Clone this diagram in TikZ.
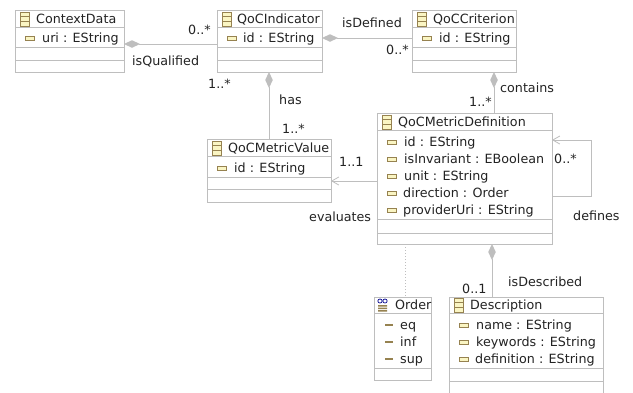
\documentclass[tikz,border=0pt]{standalone}
\usepackage{fontspec}
\setmainfont{DejaVu Sans}
\usetikzlibrary{arrows.meta}
\definecolor{linegray}{RGB}{190,190,190}
\definecolor{icoedge}{RGB}{150,130,80}
\definecolor{icofill}{RGB}{250,245,195}
\definecolor{txt}{RGB}{35,35,35}
\tikzset{
  x=1pt,y=-1pt,
  classbox/.style={draw=linegray,line width=1pt,fill=white,anchor=north west,inner sep=0pt,outer sep=0pt},
  sepline/.style={draw=linegray,line width=1pt},
  assoc/.style={draw=linegray,line width=1pt},
  comp/.style={assoc,{Diamond[length=16pt,width=7.5pt,line width=0pt,fill=linegray,color=linegray]}-},
  ref/.style={assoc,-{Straight Barb[length=7pt,width=8pt,line width=.8pt,color=linegray]}},
  lab/.style={text=txt,font=\fontsize{12.7}{15}\selectfont,inner sep=0pt,anchor=base west,yshift=-1pt},
  mult/.style={lab},
}
\newcommand{\classico}[2]{% x y top-left
  \draw[icoedge,fill=icofill,line width=.8pt] (#1,#2) rectangle ++(9.5,14);
  \draw[icoedge,line width=.6pt] (#1,#2+4.6) -- ++(9.5,0) (#1,#2+9.3) -- ++(9.5,0);}
\newcommand{\attrico}[2]{% x, y centre
  \draw[icoedge,fill=icofill,line width=.9pt] (#1,#2-2) rectangle ++(9,4);}
\newcommand{\litico}[2]{%
  \draw[icoedge,line width=1.4pt] (#1,#2) -- ++(8,0);}
\newcommand{\seps}[3]{% node, y1, y2
  \draw[sepline] (#1.west |- 0,#2) -- (#1.east |- 0,#2);
  \draw[sepline] (#1.west |- 0,#3) -- (#1.east |- 0,#3);}
\begin{document}
\begin{tikzpicture}
\clip (0,0) rectangle (633,392);
\fill[white] (0,0) rectangle (633,392);
% class boxes
\node[classbox,minimum width=109pt,minimum height=62pt] (ctx) at (15,10) {};
\node[classbox,minimum width=105pt,minimum height=62pt] (ind) at (217,10) {};
\node[classbox,minimum width=104pt,minimum height=62pt] (cri) at (412,10) {};
\node[classbox,minimum width=175pt,minimum height=131pt] (def) at (377,113) {};
\node[classbox,minimum width=124pt,minimum height=63pt] (val) at (207,139) {};
\node[classbox,minimum width=57pt,minimum height=83pt] (ord) at (374,297) {};
\node[classbox,minimum width=154pt,minimum height=110pt] (des) at (449,297) {};
% compartments
\draw[sepline] (ctx.west |- 0,27) -- (ctx.east |- 0,27);
\seps{ctx}{47}{60}
\draw[sepline] (ind.west |- 0,27) -- (ind.east |- 0,27);
\seps{ind}{47}{60}
\draw[sepline] (cri.west |- 0,27) -- (cri.east |- 0,27);
\seps{cri}{47}{60}
\draw[sepline] (def.west |- 0,130) -- (def.east |- 0,130);
\seps{def}{219}{233}
\draw[sepline] (val.west |- 0,156) -- (val.east |- 0,156);
\seps{val}{177}{189}
\seps{ord}{313}{368}
\seps{des}{313}{368}
\draw[sepline] (des.west |- 0,381) -- (des.east |- 0,381);
% icons
\classico{20}{12}\classico{222}{12}\classico{417}{12}\classico{382}{115}\classico{212}{141}\classico{454}{298}
\attrico{25}{38}\attrico{227}{38}\attrico{422}{38}\attrico{217}{168}
\attrico{387}{142}\attrico{387}{159}\attrico{387}{176}\attrico{387}{193}\attrico{387}{210}
\attrico{459}{325}\attrico{459}{342}\attrico{459}{359}
\litico{385}{325}\litico{385}{342}\litico{385}{359}
% enumeration icon
\draw[blue!55!black,fill=white,line width=.7pt] (380,301) ellipse (2.2 and 2);
\draw[blue!55!black,fill=white,line width=.7pt] (385,301) ellipse (2.2 and 2);
\fill[icoedge] (378,305) rectangle (387,306.5) (378,307.5) rectangle (387,309) (378,310) rectangle (387,311.5);
% class texts
\node[lab] (t1) at (36,22.5) {ContextData};
\node[lab] (t2) at (42,41.5) {uri : EString};
\node[lab] (t3) at (237,22.5) {QoCIndicator};
\node[lab] (t4) at (243,41.5) {id : EString};
\node[lab] (t5) at (433,22.5) {QoCCriterion};
\node[lab] (t6) at (439,41.5) {id : EString};
\node[lab] (t7) at (398,125.5) {QoCMetricDefinition};
\node[lab] (t8) at (404,145.5) {id : EString};
\node[lab] (t9) at (404,162.5) {isInvariant : EBoolean};
\node[lab] (t10) at (404,179.5) {unit : EString};
\node[lab] (t11) at (403,196.5) {direction : Order};
\node[lab] (t12) at (403,213.5) {providerUri : EString};
\node[lab] (t13) at (228,151.5) {QoCMetricValue};
\node[lab] (t14) at (234,171.5) {id : EString};
\node[lab] (t15) at (395,308.5) {Order};
\node[lab] (t16) at (400,328.5) {eq};
\node[lab] (t17) at (400,345.5) {inf};
\node[lab] (t18) at (400,362.5) {sup};
\node[lab] (t19) at (470,308.5) {Description};
\node[lab] (t20) at (476,328.5) {name : EString};
\node[lab] (t21) at (476,345.5) {keywords : EString};
\node[lab] (t22) at (475,362.5) {definition : EString};
% connectors
\draw[comp] (ctx.east |- 0,44) -- (ind.west |- 0,44);
\draw[comp] (ind.east |- 0,38) -- (cri.west |- 0,38);
\draw[comp] (ind.south -| 269,0) -- (val.north -| 269,0);
\draw[comp] (cri.south -| 494,0) -- (def.north -| 494,0);
\draw[comp] (def.south -| 492,0) -- (des.north -| 492,0);
\draw[ref] (def.west |- 0,181) -- (val.east |- 0,181);
\draw[ref] (def.east |- 0,196) -- (591,196) -- (591,140) -- (def.east |- 0,140);
\draw[assoc,dotted] (def.south -| 405,0) -- (ord.north -| 405,0);
% labels
\node[mult] (m1) at (188,33.5) {0..*};
\node[lab] (l1) at (132,64.5) {isQualified};
\node[mult] (m2) at (208,87.5) {1..*};
\node[lab] (l2) at (279,103.5) {has};
\node[mult] (m3) at (282,132.5) {1..*};
\node[lab] (l3) at (342,26.5) {isDefined};
\node[mult] (m4) at (386,53.5) {0..*};
\node[lab] (l4) at (500,91.5) {contains};
\node[mult] (m5) at (469,105.5) {1..*};
\node[mult] (m6) at (339,165.5) {1..1};
\node[mult] (m7) at (554,162.5) {0..*};
\node[lab] (l5) at (309,220.5) {evaluates};
\node[lab] (l6) at (573,219.5) {defines};
\node[lab] (l7) at (508,285.5) {isDescribed};
\node[mult] (m8) at (462,292.5) {0..1};
\end{tikzpicture}
\end{document}
